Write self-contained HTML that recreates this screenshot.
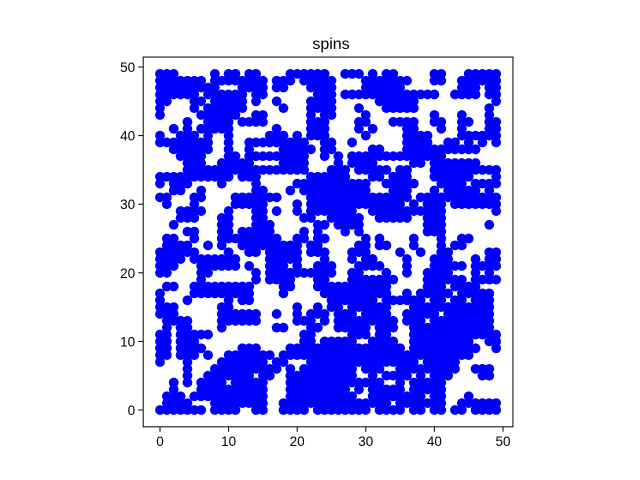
<!DOCTYPE html>
<html><head><meta charset="utf-8"><style>
html,body{margin:0;padding:0;background:#fff;}
svg{display:block;font-family:"Liberation Sans","DejaVu Sans",sans-serif;}
</style></head><body>
<svg id="chart" width="640" height="480" viewBox="0 0 640 480">
<rect width="640" height="480" fill="#fff"/>
<text x="331" y="49" font-size="16" text-anchor="middle">spins</text>
<g id="marks"></g>
<g id="axes"></g>
</svg>
<script>
// rows from y=49 down to y=0; each string is x=0..49
const topLeft = [
"1110000010110110000111111","1111111011111111011101111","1111111110001111011000111","1111110111111011000000011",
"1100011011111010010000111","1000010111111000001000111","1000001111110011000000101","0000100111101111000000111",
"0010101111100000010000111","1001110100100000111010111","1111111100100111111111001","0011111100100100001111101",
"0001111000110111111111001","0000111001111100001111000","0000111111111111111111000","1111111111101110000000111",
"1011100001000010000011111","0011001000000011000101111","1100011000011111110000111","0100010000011111000010111",
"0001111000100011010010111","0001110001100011000001100","0010000001100011100000011","0000110001101111100001010",
"0110010001111111110011011"];
const topRight = [
"0011101011000001100011111","1000011111110001100111111","1000011111100000000111011","1011111111111111001111011",
"1000000111111000000000001","1000100011111000000000010","1000010000000001000100010","0000110001111001100110011",
"0000101000011000100100011","0000010000011110000111111","1001000000011110011010101","1000001100011111111111000",
"0101111111111111100000000","0101111000001101111111000","1110111110110001111111111","1110001101110001111110001",
"1111110011111000111101111","1111110001110001011111010","1111111111110111111111111","1111111111101011101111111",
"1111001111111111100000001","1111100111110011100000000","0111100000000011100000010","0010100000000011100000000",
"0000010100001000100110000"];
const bottomLeft = [
"0111100101001111111110110","1111110000100110111110111","1111011111110000111110001","1110001111110100111010011",
"1100001100000010111111111","0000001000000010111100011","0110011111111100001100011","1000011111111100001000001",
"1000100000101100000000000","1110000001100000000010010","1110000001111110010010111","0111100001111110000011101",
"0101100001000000011000110","1101111100000000000001100","1101110000000000000001101","1101111000001110000111111",
"1101110100111111101111111","1000100001111111011000111","0000100011111111110101111","0000100111111101100111111",
"0010101111011111000111111","0010001111111111000111111","0111011111111111000111111","0111100011111111001111111",
"1111111011110011001111011"];
const bottomRight = [
"0000110110001000101100000","0001110000100100110000011","0001011000010001110001011","1000111100010001111101111",
"1001100010010011110001010","0001111111000011111101111","1111111110000011101111000","1111111110010111110111110",
"1111111011111101101101110","1101111110001111111111110","0111011110011111011111110","0111111111011101111111110",
"0111110111001111111111110","0001110110001111111111111","1111001111001111111110011","1111111111101111111111001",
"1111111111111111111110000","1111111111111011111000000","1111011100111111111001110","1111001011110101110000110",
"1111111100101111100000000","1110101111101111100000000","1111001111111101100010000","1111111110111111100111111",
"1111110111101101101101111"];
const xTicks = [0,10,20,30,40,50];
const yTicks = [0,10,20,30,40,50];

const NS = "http://www.w3.org/2000/svg";
const X0 = 160, Y0 = 410, S = 6.86;
const xs = v => X0 + v * S;
const ys = v => Y0 - v * S;
const marks = document.getElementById('marks');
const axes = document.getElementById('axes');
const rows = topLeft.map((r,i)=>r+topRight[i]).concat(bottomLeft.map((r,i)=>r+bottomRight[i]));
rows.forEach((row, i) => {
  const yv = 49 - i;
  for (let xv = 0; xv < row.length; xv++) {
    if (row[xv] !== '1') continue;
    const c = document.createElementNS(NS, 'circle');
    c.setAttribute('cx', xs(xv)); c.setAttribute('cy', ys(yv));
    c.setAttribute('r', 4.9); c.setAttribute('fill', '#0000ff');
    
    
    marks.appendChild(c);
  }
});
const L = xs(-2.45), R = xs(51.45), T = ys(51.45), B = ys(-2.45);
const frame = document.createElementNS(NS, 'rect');
frame.setAttribute('x', L); frame.setAttribute('y', T);
frame.setAttribute('width', R - L); frame.setAttribute('height', B - T);
frame.setAttribute('fill', 'none'); frame.setAttribute('stroke', '#000'); frame.setAttribute('stroke-width', 1);


axes.appendChild(frame);
xTicks.forEach(t => {
  const l = document.createElementNS(NS, 'line');
  l.setAttribute('x1', xs(t)); l.setAttribute('x2', xs(t)); l.setAttribute('y1', B); l.setAttribute('y2', B + 5);
  l.setAttribute('stroke', '#000');
  
  
  axes.appendChild(l);
  const tx = document.createElementNS(NS, 'text');
  tx.setAttribute('x', xs(t)); tx.setAttribute('y', B + 19); tx.setAttribute('font-size', 13.5);
  tx.setAttribute('text-anchor', 'middle'); tx.textContent = t;
  
  
  axes.appendChild(tx);
});
yTicks.forEach(t => {
  const l = document.createElementNS(NS, 'line');
  l.setAttribute('x1', L - 5); l.setAttribute('x2', L); l.setAttribute('y1', ys(t)); l.setAttribute('y2', ys(t));
  l.setAttribute('stroke', '#000');
  
  
  axes.appendChild(l);
  const tx = document.createElementNS(NS, 'text');
  tx.setAttribute('x', L - 8); tx.setAttribute('y', ys(t) + 5); tx.setAttribute('font-size', 13.5);
  tx.setAttribute('text-anchor', 'end'); tx.textContent = t;
  
  
  axes.appendChild(tx);
});
</script>
</body></html>
